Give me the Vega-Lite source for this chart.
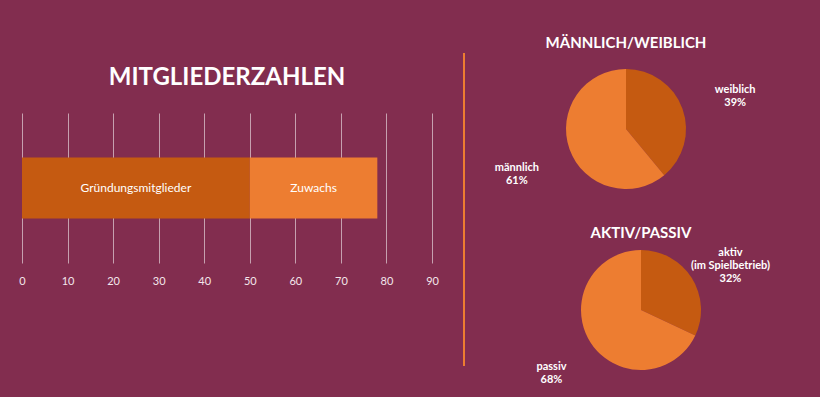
{
  "$schema": "https://vega.github.io/schema/vega-lite/v6.json",
  "background": "#822d4f",
  "padding": {"left": 18, "top": 36, "right": 30, "bottom": 20},
  "config": {"view": {"stroke": null}, "font": "Lato", "concat": {"spacing": 0}},
  "datasets": {
    "mitglieder": [
      {"gruppe": "Gründungsmitglieder", "anzahl": 50, "reihe": 1, "balken": "Mitglieder"},
      {"gruppe": "Zuwachs", "anzahl": 28, "reihe": 2, "balken": "Mitglieder"}
    ],
    "geschlecht": [
      {"kategorie": "weiblich", "anteil": 39, "reihe": 1, "label": ["weiblich", "39%"]},
      {"kategorie": "männlich", "anteil": 61, "reihe": 2, "label": ["männlich", "61%"]}
    ],
    "status": [
      {"kategorie": "aktiv", "anteil": 32, "reihe": 1, "label": ["aktiv", "(im Spielbetrieb)", "32%"]},
      {"kategorie": "passiv", "anteil": 68, "reihe": 2, "label": ["passiv", "68%"]}
    ],
    "trenner": [{"pos": 0}],
    "leer": []
  },
  "hconcat": [
    {
      "spacing": 0,
      "vconcat": [
        {
          "width": 410,
          "height": 13,
          "data": {"name": "leer"},
          "mark": {"type": "point", "opacity": 0},
          "encoding": {}
        },
        {
          "width": 410,
          "height": 150,
          "title": {"text": "MITGLIEDERZAHLEN", "fontSize": 24, "fontWeight": "bold", "color": "white", "offset": 23, "anchor": "middle"},
          "data": {"name": "mitglieder"},
          "transform": [
            {"stack": "anzahl", "groupby": ["balken"], "sort": [{"field": "reihe"}], "as": ["start", "ende"]},
            {"calculate": "(datum.start + datum.ende) / 2", "as": "mitte"}
          ],
          "encoding": {
            "y": {"field": "balken", "type": "nominal", "axis": null, "scale": {"paddingInner": 0, "paddingOuter": 0.73}}
          },
          "layer": [
            {
              "mark": {"type": "bar"},
              "encoding": {
                "x": {"field": "start", "type": "quantitative", "scale": {"domain": [0, 90]},
                  "axis": {"values": [0, 10, 20, 30, 40, 50, 60, 70, 80, 90], "grid": true, "gridColor": "#ffffff", "gridOpacity": 0.55, "domain": false, "ticks": false, "labelColor": "#f3e6eb", "labelFontSize": 11, "labelPadding": 12, "labelFlush": false, "title": null}},
                "x2": {"field": "ende"},
                "color": {"field": "gruppe", "type": "nominal", "scale": {"domain": ["Gründungsmitglieder", "Zuwachs"], "range": ["#c55a11", "#ed7d31"]}, "legend": null}
              }
            },
            {
              "mark": {"type": "text", "color": "white", "fontSize": 12},
              "encoding": {
                "x": {"field": "mitte", "type": "quantitative"},
                "text": {"field": "gruppe"}
              }
            }
          ]
        }
      ]
    },
    {
      "width": 32,
      "height": 313,
      "data": {"name": "trenner"},
      "mark": {"type": "rule", "color": "#ed7d31", "strokeWidth": 2},
      "encoding": {
        "x": {"field": "pos", "type": "quantitative", "axis": null, "scale": {"domain": [-25, 7]}}
      }
    },
    {
      "spacing": 21,
      "vconcat": [
        {
          "width": 310,
          "height": 152,
          "title": {"text": "MÄNNLICH/WEIBLICH", "fontSize": 15, "fontWeight": "bold", "color": "white", "anchor": "middle", "offset": 2},
          "data": {"name": "geschlecht"},
          "encoding": {
            "theta": {"field": "anteil", "type": "quantitative", "stack": true},
            "order": {"field": "reihe", "type": "quantitative"},
            "color": {"field": "kategorie", "type": "nominal", "scale": {"domain": ["weiblich", "männlich"], "range": ["#c55a11", "#ed7d31"]}, "legend": null}
          },
          "layer": [
            {"mark": {"type": "arc", "outerRadius": 60}},
            {"mark": {"type": "text", "radius": 116, "fontSize": 11, "fontWeight": "bold"},
             "encoding": {"text": {"field": "label"}, "color": {"value": "white"}}}
          ]
        },
        {
          "width": 340,
          "height": 134,
          "title": {"text": "AKTIV/PASSIV", "fontSize": 15, "fontWeight": "bold", "color": "white", "anchor": "middle", "offset": 2},
          "data": {"name": "status"},
          "encoding": {
            "theta": {"field": "anteil", "type": "quantitative", "stack": true},
            "order": {"field": "reihe", "type": "quantitative"},
            "color": {"field": "kategorie", "type": "nominal", "scale": {"domain": ["aktiv", "passiv"], "range": ["#c55a11", "#ed7d31"]}, "legend": null}
          },
          "layer": [
            {"mark": {"type": "arc", "outerRadius": 60}},
            {"mark": {"type": "text", "radius": 106, "fontSize": 11, "fontWeight": "bold"},
             "encoding": {"text": {"field": "label"}, "color": {"value": "white"}}}
          ]
        }
      ]
    }
  ]
}
